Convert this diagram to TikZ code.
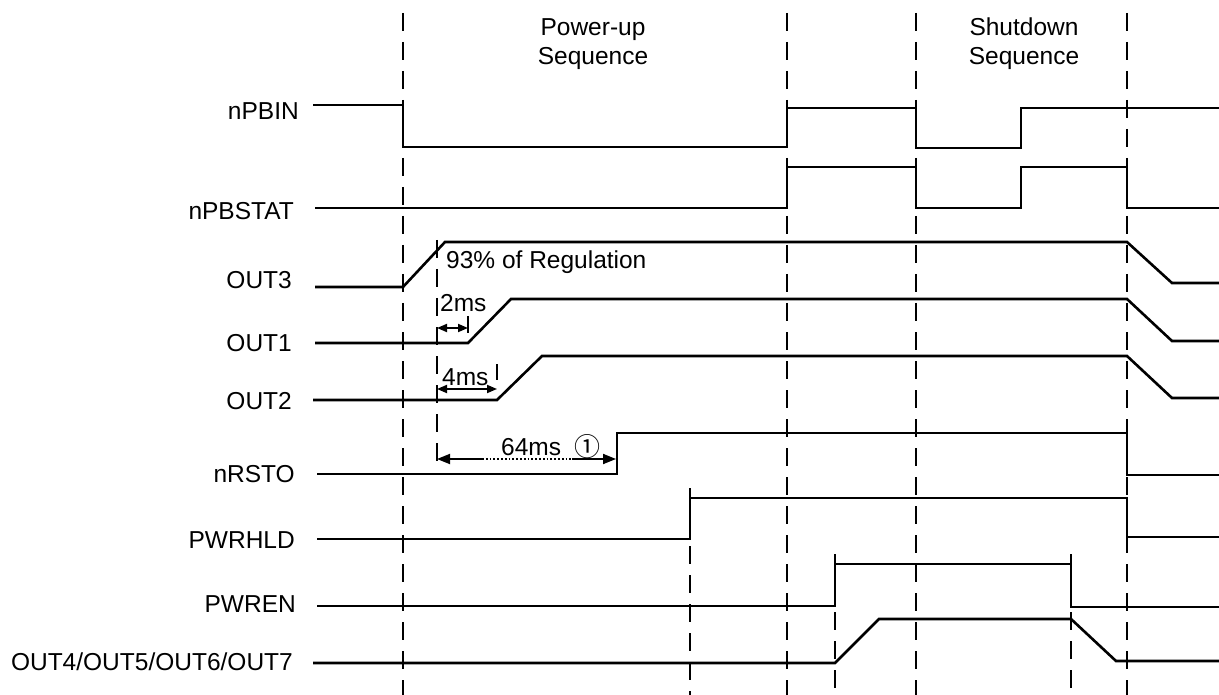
\documentclass[tikz,border=0pt]{standalone}
\usepackage{fontspec}
\setmainfont{Liberation Sans}
\newfontfamily\symfont{Noto Sans CJK SC}
\usetikzlibrary{arrows.meta}
\tikzset{
  sig/.style={line width=2.6pt, line join=miter, line cap=butt},
  guide/.style={line width=2pt, dash pattern=on 18pt off 11pt},
  lbl/.style={anchor=base east, inner sep=0pt, font=\fontsize{24.5}{29}\selectfont},
  txt/.style={inner sep=0pt, font=\fontsize{24.5}{29}\selectfont},
  dimarrow/.style={line width=1.8pt, {Triangle[length=10pt,width=8pt]}-{Triangle[length=10pt,width=8pt]}},
  tick/.style={line width=1.8pt}
}
\begin{document}
\begin{tikzpicture}[x=1pt,y=-1pt]
\useasboundingbox (0,0) rectangle (1219,695);
\fill[white] (0,0) rectangle (1219,695);

% guide lines
\draw[guide] (403,13) -- (403,695);
\draw[guide] (787,13) -- (787,695);
\draw[guide] (916,13) -- (916,695);
\draw[guide] (1127,13) -- (1127,695);
\draw[guide] (437,240) -- (437,467);
\draw[guide] (690,488) -- (690,695);
\draw[guide] (835,554) -- (835,695);
\draw[guide] (1071,554) -- (1071,695);

% headings
\node[txt, anchor=base] (pu1) at (593,36) {Power-up};
\node[txt, anchor=base] (pu2) at (593,65) {Sequence};
\node[txt, anchor=base] (sd1) at (1024,36) {Shutdown};
\node[txt, anchor=base] (sd2) at (1024,65) {Sequence};

% labels
\node[lbl] (lnpbin) at (299,120) {nPBIN};
\node[lbl] (lnpbstat) at (294,219.5) {nPBSTAT};
\node[lbl] (lout3) at (292,289) {OUT3};
\node[lbl] (lout1) at (292,352) {OUT1};
\node[lbl] (lout2) at (292,409) {OUT2};
\node[lbl] (lnrsto) at (295,482) {nRSTO};
\node[lbl] (lpwrhld) at (295,548) {PWRHLD};
\node[lbl] (lpwren) at (296,612) {PWREN};
\node[lbl] (lout4) at (293,670) {OUT4/OUT5/OUT6/OUT7};

% signals
\draw[sig] (313,105) -- (403,105) -- (403,147) -- (787,147) -- (787,108) -- (916,108) -- (916,148) -- (1021,148) -- (1021,108) -- (1219,108);
\draw[sig] (315,208) -- (787,208) -- (787,167) -- (916,167) -- (916,208) -- (1021,208) -- (1021,167) -- (1127,167) -- (1127,208) -- (1219,208);
\draw[sig] (315,287) -- (403,287) -- (445,242) -- (1127,242) -- (1172,283) -- (1219,283);
\draw[sig] (315,343) -- (468,343) -- (511,299) -- (1127,299) -- (1172,341) -- (1219,341);
\draw[sig] (313,400) -- (497,400) -- (542,356) -- (1127,356) -- (1172,398) -- (1219,398);
\draw[sig] (317,474) -- (617,474) -- (617,433) -- (1127,433) -- (1127,475) -- (1219,475);
\draw[sig] (317,539) -- (690,539) -- (690,498) -- (1127,498) -- (1127,537) -- (1219,537);
\draw[sig] (317,606) -- (835,606) -- (835,564) -- (1071,564) -- (1071,607) -- (1219,607);
\draw[sig] (313,663) -- (835,663) -- (879,619) -- (1071,619) -- (1116,661) -- (1219,661);

% annotations
\node[txt, anchor=base west] (reg) at (446,269) {93\% of Regulation};
\node[txt, anchor=base west] (t2) at (440,312) {2ms};
\node[txt, anchor=base west] (t4) at (442,385) {4ms};
\node[txt, anchor=base west] (t64) at (501,455) {64ms};
\node[inner sep=0pt, font=\symfont\fontsize{26}{29}\selectfont] (n1) at (587,447) {①};

\coordinate (a2l) at (437,328);
\coordinate (a2r) at (468,328);
\coordinate (k2t) at (468,316);
\coordinate (k2b) at (468,333);
\draw[tick] (k2t) -- (k2b);
\draw[dimarrow] (a2l) -- (a2r);

\coordinate (a4l) at (437,389);
\coordinate (a4r) at (497,389);
\coordinate (k4t) at (497,364);
\coordinate (k4b) at (497,380);
\draw[tick] (k4t) -- (k4b);
\draw[dimarrow] (a4l) -- (a4r);

\coordinate (a64l) at (437,459);
\coordinate (a64m1) at (482,459);
\coordinate (a64m2) at (572,459);
\coordinate (a64r) at (616,459);
\draw[line width=1.8pt, {Triangle[length=13pt,width=10pt]}-] (a64l) -- (a64m1);
\draw[line width=1.8pt, dotted] (a64m1) -- (a64m2);
\draw[line width=1.8pt, -{Triangle[length=13pt,width=10pt]}] (a64m2) -- (a64r);
\end{tikzpicture}
\end{document}
